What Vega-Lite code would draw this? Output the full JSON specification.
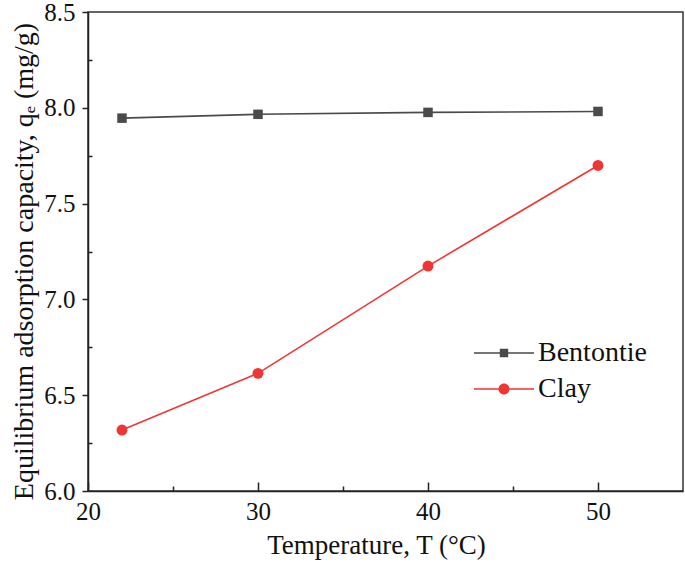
{
  "$schema": "https://vega.github.io/schema/vega-lite/v6.json",
  "width": 595,
  "height": 479,
  "autosize": "none",
  "padding": {"left": 88, "top": 12, "right": 2, "bottom": 80},
  "background": "white",
  "config": {
    "view": {"stroke": "#333", "strokeWidth": 1.5},
    "axis": {
      "labelFont": "Liberation Serif",
      "titleFont": "Liberation Serif",
      "labelColor": "#111",
      "titleColor": "#111",
      "labelFontSize": 25,
      "titleFontSize": 27,
      "titleFontWeight": "normal",
      "domainColor": "#222",
      "domainWidth": 1.5,
      "tickColor": "#222",
      "tickWidth": 1.5,
      "labelFlush": false,
      "labelOverlap": false,
      "grid": false
    },
    "legend": {"labelFont": "Liberation Serif", "labelColor": "#111"}
  },
  "data": {
    "values": [
      {"material": "Bentontie", "T": 22, "qe": 7.946},
      {"material": "Bentontie", "T": 30, "qe": 7.966},
      {"material": "Bentontie", "T": 40, "qe": 7.976},
      {"material": "Bentontie", "T": 50, "qe": 7.981},
      {"material": "Clay", "T": 22, "qe": 6.318},
      {"material": "Clay", "T": 30, "qe": 6.614},
      {"material": "Clay", "T": 40, "qe": 7.174},
      {"material": "Clay", "T": 50, "qe": 7.699}
    ]
  },
  "resolve": {"axis": {"x": "independent", "y": "independent"}},
  "layer": [
    {
      "transform": [{"filter": "datum.material === 'Bentontie'"}],
      "mark": {"type": "line", "strokeWidth": 1.6, "color": "#4a4a4a"},
      "encoding": {
        "x": {
          "field": "T", "type": "quantitative",
          "scale": {"domain": [20, 55], "nice": false, "zero": false},
          "axis": {"orient": "bottom", "values": [20, 30, 40, 50], "tickSize": -9, "labelPadding": 17, "labelFont": "Liberation Serif", "title": "Temperature, T (°C)", "titlePadding": 8, "titleX": 288}
        },
        "y": {
          "field": "qe", "type": "quantitative",
          "scale": {"domain": [6.0, 8.5], "nice": false, "zero": false},
          "axis": {"orient": "left", "values": [6.0, 6.5, 7.0, 7.5, 8.0, 8.5], "format": ".1f", "tickSize": 6, "labelPadding": 7, "labelFont": "Liberation Serif", "title": "Equilibrium adsorption capacity, qₑ (mg/g)", "titleFontSize": 28, "titlePadding": 5, "titleY": 249}
        }
      }
    },
    {
      "transform": [{"filter": "datum.material === 'Clay'"}],
      "mark": {"type": "line", "strokeWidth": 1.6, "color": "#f03535"},
      "encoding": {
        "x": {"field": "T", "type": "quantitative", "axis": null},
        "y": {"field": "qe", "type": "quantitative", "axis": null}
      }
    },
    {
      "transform": [{"filter": "datum.material === 'Bentontie'"}],
      "mark": {"type": "square", "filled": true, "opacity": 1, "color": "#4a4a4a", "size": 90},
      "encoding": {
        "x": {"field": "T", "type": "quantitative",
          "axis": {"orient": "bottom", "values": [25, 35, 45], "tickSize": -5, "labels": false, "domain": false, "title": null}},
        "y": {"field": "qe", "type": "quantitative",
          "axis": {"orient": "left", "values": [6.25, 6.75, 7.25, 7.75, 8.25], "tickSize": -4, "labels": false, "domain": false, "title": null}}
      }
    },
    {
      "transform": [{"filter": "datum.material === 'Clay'"}],
      "mark": {"type": "circle", "opacity": 1, "color": "#f03535", "size": 120},
      "encoding": {
        "x": {"field": "T", "type": "quantitative", "axis": null},
        "y": {"field": "qe", "type": "quantitative", "axis": null}
      }
    },
    {
      "transform": [{"filter": "datum.qe < 0"}],
      "mark": {"type": "point", "filled": true, "opacity": 1},
      "encoding": {
        "color": {
          "field": "material", "type": "nominal",
          "scale": {"domain": ["Bentontie", "Clay"], "range": ["#4a4a4a", "#f03535"]},
          "legend": {
            "orient": "none", "legendX": 402, "legendY": 327, "title": null,
            "padding": 0, "symbolSize": 400, "symbolOpacity": 1, "symbolStrokeWidth": 0,
            "labelFont": "Liberation Serif", "labelFontSize": 28, "labelOffset": 20, "rowPadding": 8
          }
        },
        "shape": {
          "field": "material", "type": "nominal",
          "scale": {"domain": ["Bentontie", "Clay"], "range": ["M-3,-0.08H3V0.08H-3ZM-0.42,-0.42H0.42V0.42H-0.42Z", "M-3,-0.08H3V0.08H-3ZM-0.55,0A0.55,0.55,0,1,1,0.55,0A0.55,0.55,0,1,1,-0.55,0Z"]},
          "legend": {
            "orient": "none", "legendX": 402, "legendY": 327, "title": null,
            "padding": 0, "symbolSize": 400, "symbolOpacity": 1, "symbolStrokeWidth": 0,
            "labelFont": "Liberation Serif", "labelFontSize": 28, "labelOffset": 20, "rowPadding": 8
          }
        }
      }
    }
  ]
}
